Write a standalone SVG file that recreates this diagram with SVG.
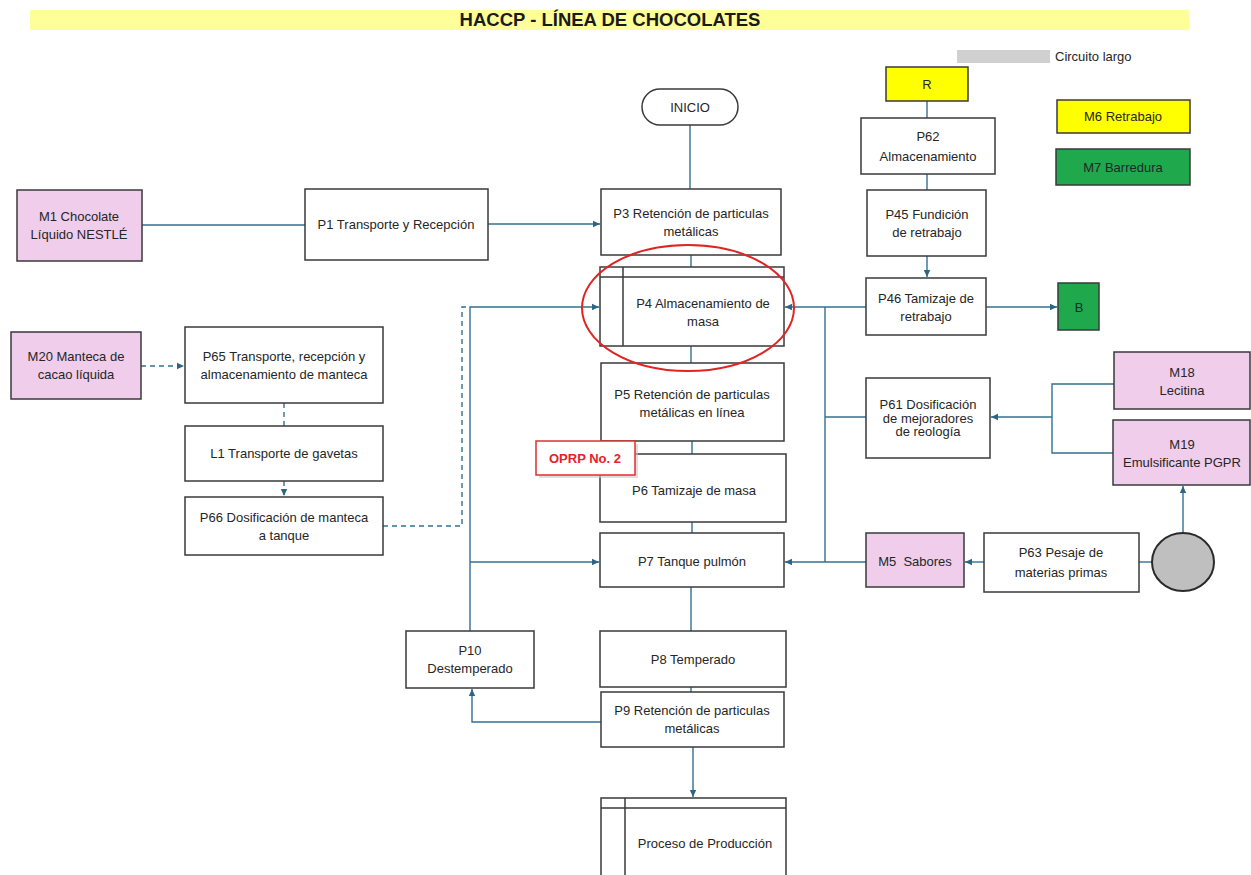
<svg xmlns="http://www.w3.org/2000/svg" width="1251" height="875" viewBox="0 0 1251 875">
<defs>
<style>
.box{fill:#ffffff;stroke:#3a3a3a;stroke-width:1.5}
.pink{fill:#efcdeb;stroke:#3a3a3a;stroke-width:1.5}
.yel{fill:#ffff00;stroke:#3a3a3a;stroke-width:1.5}
.grn{fill:#1fa84c;stroke:#3a3a3a;stroke-width:1.5}
.t{font-family:"Liberation Sans",Arial,sans-serif;font-size:13px;fill:#262626;text-anchor:middle}
.c{fill:none;stroke:#34708f;stroke-width:1.4}
.d{fill:none;stroke:#34708f;stroke-width:1.4;stroke-dasharray:5,4}
</style>
<marker id="ah" markerWidth="8" markerHeight="8" refX="7" refY="4" orient="auto" markerUnits="userSpaceOnUse">
<path d="M0,0.8 L7,4 L0,7.2 z" fill="#2b6684"/>
</marker>
</defs>
<rect width="1251" height="875" fill="#ffffff"/>

<g id="title">
<rect x="30" y="10" width="1159" height="20" fill="#ffff99"/>
<text x="610" y="26" font-family="Liberation Sans,Arial,sans-serif" font-size="18.5" font-weight="bold" text-anchor="middle" fill="#1a1a1a">HACCP - LÍNEA DE CHOCOLATES</text>
</g>

<g id="legend">
<rect x="957" y="50" width="93" height="13" fill="#d0d0d0"/>
<text x="1055" y="61" font-family="Liberation Sans,Arial,sans-serif" font-size="13" fill="#262626">Circuito largo</text>
</g>

<g id="connectors">
<path class="c" d="M690,125 V189"/>
<path class="c" d="M142,225 H305"/>
<path class="c" d="M488,224 H600" marker-end="url(#ah)"/>
<path class="c" d="M691,255 V267"/>
<path class="c" d="M691,346 V363"/>
<path class="c" d="M692,441 V454"/>
<path class="c" d="M692,522 V533"/>
<path class="c" d="M691,587 V631"/>
<path class="c" d="M691,687 V692"/>
<path class="c" d="M693,747 V797" marker-end="url(#ah)"/>
<path class="c" d="M601,722 H472 V689" marker-end="url(#ah)"/>
<path class="c" d="M470,631 V307 H599" marker-end="url(#ah)"/>
<path class="c" d="M470,562 H599" marker-end="url(#ah)"/>
<path class="d" d="M383,526 H462 V307 H470"/>
<path class="d" d="M141,366 H184" marker-end="url(#ah)"/>
<path class="d" d="M284,403 V426"/>
<path class="d" d="M284,481 V496" marker-end="url(#ah)"/>
<path class="c" d="M927,101 V118"/>
<path class="c" d="M927,174 V190"/>
<path class="c" d="M927,256 V277" marker-end="url(#ah)"/>
<path class="c" d="M986,307 H1057" marker-end="url(#ah)"/>
<path class="c" d="M866,307 H785" marker-end="url(#ah)"/>
<path class="c" d="M825,307 V562"/>
<path class="c" d="M866,417 H825"/>
<path class="c" d="M866,562 H785" marker-end="url(#ah)"/>
<path class="c" d="M984,562 H965" marker-end="url(#ah)"/>
<path class="c" d="M1152,562 H1139"/>
<path class="c" d="M1183,533 V486" marker-end="url(#ah)"/>
<path class="c" d="M1114,384 H1052 V453 H1113"/>
<path class="c" d="M1052,417 H991" marker-end="url(#ah)"/>
</g>

<g id="inicio">
<rect x="642" y="89" width="96" height="36" rx="18" class="box"/>
<text class="t" x="690" y="112">INICIO</text>
</g>

<g id="m1">
<rect x="17" y="190" width="125" height="71" class="pink"/>
<text class="t" x="79" y="221">M1 Chocolate</text>
<text class="t" x="79" y="239">Líquido NESTLÉ</text>
</g>

<g id="p1">
<rect x="305" y="189" width="183" height="71" class="box"/>
<text class="t" x="396" y="229">P1 Transporte y Recepción</text>
</g>

<g id="p3">
<rect x="601" y="189" width="180" height="66" class="box"/>
<text class="t" x="691" y="218">P3 Retención de particulas</text>
<text class="t" x="691" y="236">metálicas</text>
</g>

<g id="p4">
<rect x="600" y="267" width="184" height="79" class="box"/>
<line x1="623" y1="267" x2="623" y2="346" stroke="#3a3a3a" stroke-width="1.5"/>
<line x1="600" y1="277" x2="784" y2="277" stroke="#3a3a3a" stroke-width="1.5"/>
<text class="t" x="703" y="308">P4 Almacenamiento de</text>
<text class="t" x="703" y="326">masa</text>
</g>

<g id="p5">
<rect x="601" y="363" width="183" height="78" class="box"/>
<text class="t" x="692" y="399">P5 Retención de particulas</text>
<text class="t" x="692" y="417">metálicas en línea</text>
</g>

<g id="p6">
<rect x="600" y="454" width="186" height="68" class="box"/>
<text class="t" x="694" y="495">P6 Tamizaje de masa</text>
</g>

<g id="oprp">
<rect x="539" y="444" width="99" height="34" fill="#c8c8c8" opacity="0.6"/>
<rect x="536" y="441" width="99" height="34" fill="#ffffff" stroke="#e03030" stroke-width="1.5"/>
<text x="585" y="463" font-family="Liberation Sans,Arial,sans-serif" font-size="13" font-weight="bold" text-anchor="middle" fill="#e8202a">OPRP No. 2</text>
</g>

<g id="p7">
<rect x="600" y="533" width="184" height="54" class="box"/>
<text class="t" x="692" y="566">P7 Tanque pulmón</text>
</g>

<g id="p8">
<rect x="600" y="631" width="186" height="56" class="box"/>
<text class="t" x="693" y="664">P8 Temperado</text>
</g>

<g id="p9">
<rect x="601" y="692" width="183" height="55" class="box"/>
<text class="t" x="692" y="715">P9 Retención de particulas</text>
<text class="t" x="692" y="733">metálicas</text>
</g>

<g id="proceso">
<rect x="601" y="798" width="185" height="90" class="box"/>
<line x1="625" y1="798" x2="625" y2="880" stroke="#3a3a3a" stroke-width="1.5"/>
<line x1="601" y1="808" x2="786" y2="808" stroke="#3a3a3a" stroke-width="1.5"/>
<text class="t" x="705" y="848">Proceso de Producción</text>
</g>

<g id="p10">
<rect x="406" y="631" width="128" height="57" class="box"/>
<text class="t" x="470" y="655">P10</text>
<text class="t" x="470" y="673">Destemperado</text>
</g>

<g id="m20">
<rect x="11" y="332" width="130" height="67" class="pink"/>
<text class="t" x="76" y="361">M20 Manteca de</text>
<text class="t" x="76" y="379">cacao líquida</text>
</g>

<g id="p65">
<rect x="185" y="327" width="198" height="76" class="box"/>
<text class="t" x="284" y="361">P65 Transporte, recepción y</text>
<text class="t" x="284" y="379">almacenamiento de manteca</text>
</g>

<g id="l1">
<rect x="185" y="426" width="198" height="55" class="box"/>
<text class="t" x="284" y="458">L1 Transporte de gavetas</text>
</g>

<g id="p66">
<rect x="185" y="497" width="198" height="58" class="box"/>
<text class="t" x="284" y="522">P66 Dosificación de manteca</text>
<text class="t" x="284" y="540">a tanque</text>
</g>

<g id="r">
<rect x="886" y="67" width="82" height="34" class="yel"/>
<text class="t" x="927" y="89">R</text>
</g>

<g id="m6">
<rect x="1057" y="100" width="133" height="33" class="yel"/>
<text class="t" x="1123" y="121">M6 Retrabajo</text>
</g>

<g id="m7">
<rect x="1056" y="149" width="134" height="36" class="grn"/>
<text class="t" x="1123" y="172">M7 Barredura</text>
</g>

<g id="p62">
<rect x="861" y="118" width="134" height="56" class="box"/>
<text class="t" x="928" y="141">P62</text>
<text class="t" x="928" y="161">Almacenamiento</text>
</g>

<g id="p45">
<rect x="867" y="190" width="119" height="66" class="box"/>
<text class="t" x="927" y="219">P45 Fundición</text>
<text class="t" x="927" y="237">de retrabajo</text>
</g>

<g id="p46">
<rect x="866" y="278" width="120" height="57" class="box"/>
<text class="t" x="926" y="303">P46 Tamizaje de</text>
<text class="t" x="926" y="321">retrabajo</text>
</g>

<g id="b">
<rect x="1058" y="283" width="41" height="47" class="grn"/>
<text class="t" x="1079" y="312" font-size="12">B</text>
</g>

<g id="p61">
<rect x="866" y="378" width="124" height="80" class="box"/>
<text class="t" x="928" y="409">P61 Dosificación</text>
<text class="t" x="928" y="423">de mejoradores</text>
<text class="t" x="928" y="436">de reología</text>
</g>

<g id="m18">
<rect x="1114" y="352" width="136" height="57" class="pink"/>
<text class="t" x="1182" y="377">M18</text>
<text class="t" x="1182" y="395">Lecitina</text>
</g>

<g id="m19">
<rect x="1113" y="420" width="137" height="65" class="pink"/>
<text class="t" x="1182" y="449">M19</text>
<text class="t" x="1182" y="467">Emulsificante PGPR</text>
</g>

<g id="m5">
<rect x="866" y="533" width="98" height="54" class="pink"/>
<text class="t" x="915" y="566">M5&#160; Sabores</text>
</g>

<g id="p63">
<rect x="984" y="533" width="155" height="59" class="box"/>
<text class="t" x="1061" y="557">P63 Pesaje de</text>
<text class="t" x="1061" y="577">materias primas</text>
</g>

<g id="circle">
<ellipse cx="1183" cy="562" rx="31" ry="29" fill="#bfbfbf" stroke="#2a2a2a" stroke-width="2"/>
</g>

<g id="highlight">
<ellipse cx="688" cy="308" rx="106" ry="63" fill="none" stroke="#e02424" stroke-width="2"/>
</g>
</svg>
